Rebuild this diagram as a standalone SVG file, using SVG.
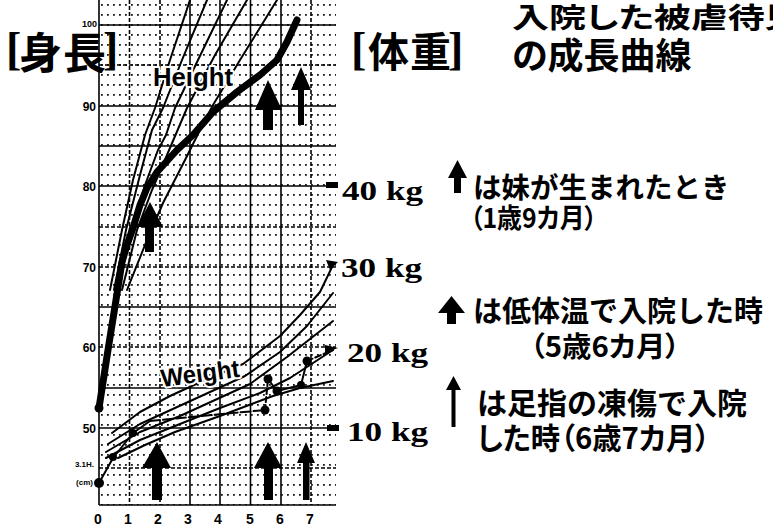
<svg xmlns="http://www.w3.org/2000/svg" width="773" height="528" viewBox="0 0 773 528">
<style>
.grid{stroke:#000;stroke-width:1.6;fill:none}
.gd{stroke:#000;stroke-width:1.6;fill:none;stroke-dasharray:4 2}
.thin{stroke:#000;stroke-width:2;fill:none;stroke-linejoin:round;stroke-linecap:round}
.thick{stroke:#000;stroke-width:7;fill:none;stroke-linejoin:round;stroke-linecap:round}
.ax{font-family:"Liberation Sans",Arial,sans-serif;font-weight:700;fill:#000}
.jp{font-family:"Noto Sans CJK JP","Noto Sans CJK SC",sans-serif;font-weight:700;fill:#000}
.pa{font-feature-settings:"palt"}
.kg{font-family:"Liberation Serif","Times New Roman",serif;font-weight:700;fill:#000;font-size:28px}
.br{font-family:"Liberation Serif","Times New Roman",serif;font-weight:700;fill:#000;font-size:46px}
.lbl{font-family:"Liberation Sans",Arial,sans-serif;font-weight:700;fill:#000;stroke:#fff;stroke-width:4;paint-order:stroke;stroke-linejoin:round}
.dot{fill:#000}
</style>
<defs>
<pattern id="dots" x="99" y="0" width="6" height="10" patternUnits="userSpaceOnUse">
<rect x="2" y="4" width="1.8" height="1.8" fill="#000"/>
</pattern>
</defs>
<rect width="773" height="528" fill="#fff"/>

<g id="chart-grid">
<rect x="100" y="0" width="236" height="505" fill="url(#dots)" opacity="0.9"/>
<line class="grid" x1="99" y1="25" x2="336" y2="25"/>
<line class="gd" x1="99" y1="65" x2="336" y2="65"/>
<line class="grid" x1="99" y1="106" x2="336" y2="106"/>
<line class="grid" x1="99" y1="146" x2="336" y2="146"/>
<line class="grid" x1="99" y1="186" x2="336" y2="186"/>
<line class="gd" x1="99" y1="227" x2="336" y2="227"/>
<line class="gd" x1="99" y1="267" x2="336" y2="267"/>
<line class="grid" x1="99" y1="307" x2="336" y2="307"/>
<line class="gd" x1="99" y1="347" x2="336" y2="347"/>
<line class="grid" x1="99" y1="388" x2="336" y2="388"/>
<line class="grid" x1="99" y1="428" x2="336" y2="428"/>
<line class="gd" x1="99" y1="468" x2="336" y2="468"/>
<line class="grid" x1="99" y1="505" x2="336" y2="505"/>
<line class="grid" x1="99" y1="0" x2="99" y2="505"/>
<line class="gd" x1="129.5" y1="0" x2="129.5" y2="505"/>
<line class="gd" x1="160" y1="0" x2="160" y2="505"/>
<line class="grid" x1="190" y1="0" x2="190" y2="505"/>
<line class="grid" x1="220" y1="0" x2="220" y2="505"/>
<line class="grid" x1="250.5" y1="0" x2="250.5" y2="505"/>
<line class="grid" x1="281" y1="0" x2="281" y2="505"/>
<line class="gd" x1="311" y1="0" x2="311" y2="505"/>
</g>

<g id="axis-labels" class="ax">
<text x="97" y="27" font-size="9" text-anchor="end">100</text>
<text x="96" y="111" font-size="12" text-anchor="end">90</text>
<text x="96" y="191" font-size="12" text-anchor="end">80</text>
<text x="96" y="272" font-size="12" text-anchor="end">70</text>
<text x="96" y="352" font-size="12" text-anchor="end">60</text>
<text x="96" y="433" font-size="12" text-anchor="end">50</text>
<text x="94" y="467" font-size="8" text-anchor="end">3.1H.</text>
<text x="93" y="485" font-size="8" text-anchor="end">(cm)</text>
<g font-size="14" text-anchor="middle">
<text x="98" y="524">0</text>
<text x="128" y="524">1</text>
<text x="158" y="524">2</text>
<text x="188" y="524">3</text>
<text x="218" y="524">4</text>
<text x="250" y="524">5</text>
<text x="280" y="524">6</text>
<text x="310" y="524">7</text>
</g>
</g>

<g id="height-reference">
<polyline class="thin" points="110,290 122,230 133,180 145,135 155,108 170,60 190,0"/>
<polyline class="thin" points="114,290 126,230 140,175 152,130 163,108 182,60 207,0"/>
<polyline class="thin" points="118,290 130,235 145,185 158,150 166,135 175,108 198,60 227,0"/>
<polyline class="thin" points="122,290 137,230 152,190 167,155 187,108 215,55 247,0"/>
<polyline class="thin" points="127,290 145,245 163,203 185,160 200,130 213,105 240,60 277,0"/>
</g>

<g id="height-curve">
<polyline class="thick" points="99,408 108,350 116,300 122,262 127,245 133,228 140,205 147,188 157,172 177,150 193,135 213,112 237,92 260,75 277,60 287,42 297,20"/>
<circle class="dot" cx="99" cy="408" r="4.5"/>
</g>

<g id="weight-reference">
<polyline class="thin" points="112,433 140,412 170,396 205,380 243,364 280,336 300,315 320,292 333,265"/>
<polyline class="thin" points="108,444 140,424 175,408 210,392 245,376 280,352 307,326 333,293"/>
<polyline class="thin" points="106,452 140,432 180,416 215,400 250,384 287,357 333,321"/>
<polyline class="thin" points="106,458 140,440 180,424 220,408 260,393 290,378 333,350"/>
<polyline class="thin" points="118,458 145,445 175,432 220,416 273,396 300,388 333,381"/>
</g>

<g id="weight-curve">
<polyline class="thin" stroke-width="3.5" points="99,483 113,458 133,433 150,421"/>
<polyline class="thin" stroke-width="3.5" stroke-dasharray="10 3" points="150,421 265,410"/>
<polyline class="thin" stroke-width="2" stroke-dasharray="5 3" points="265,410 268,379"/>
<polyline class="thin" stroke-width="3" points="268,379 277,391 301,385 307,361"/>
<polyline class="thin" stroke-width="2.5" stroke-dasharray="6 3" points="307,361 333,350"/>
<circle class="dot" cx="99" cy="483" r="5"/>
<circle class="dot" cx="113" cy="457" r="4"/>
<circle class="dot" cx="133" cy="433" r="4"/>
<circle class="dot" cx="265" cy="410" r="4.5"/>
<circle class="dot" cx="268" cy="379" r="4.5"/>
<circle class="dot" cx="277" cy="391" r="4.5"/>
<circle class="dot" cx="301" cy="385" r="4"/>
<circle class="dot" cx="307" cy="361" r="4.5"/>
</g>

<g id="kg-ticks">
<rect x="326" y="182" width="12" height="6" fill="#000"/>
<polygon points="326,260 338,262 330,270" fill="#000"/>
<polygon points="325,345 338,348 325,353" fill="#000"/>
<rect x="327" y="425" width="12" height="6" fill="#000"/>
</g>

<g id="chart-labels">
<text class="lbl" x="153" y="86" font-size="26" textLength="80" lengthAdjust="spacingAndGlyphs">Height</text>
<text class="lbl" x="162" y="387" font-size="25" textLength="79" lengthAdjust="spacingAndGlyphs" transform="rotate(-7.5 162 387)">Weight</text>
</g>

<g id="event-arrows" fill="#000">
<polygon points="157,442 171,468 162,468 162,500 152,500 152,468 142,468"/>
<polygon points="268,442 282,468 273,468 273,500 264,500 264,468 254,468"/>
<polygon points="306,442 315,463 309.5,463 309.5,500 303,500 303,463 297,463"/>
<polygon points="268,80 282,110 273,110 273,130 263,130 263,110 255,110"/>
<polygon points="301,67 311,90 304,90 304,125 298,125 298,90 291,90"/>
<polygon points="150,202 163,227 154,227 154,252 145,252 145,227 137,227"/>
</g>

<g id="heading-height">
<text class="br" x="6" y="64">[</text>
<text class="jp" font-size="43" y="69"><tspan x="19">身</tspan><tspan x="63">長</tspan></text>
<text class="br" x="103" y="64">]</text>
</g>

<g id="heading-weight">
<text class="br" x="351" y="64">[</text>
<text class="jp" font-size="41" y="67"><tspan x="368">体</tspan><tspan x="410">重</tspan></text>
<text class="br" x="448" y="64">]</text>
</g>

<g id="title">
<text class="jp pa" font-size="37" transform="translate(512,28) scale(1,0.77)" x="0" y="0">入院した被虐待児</text>
<text class="jp pa" font-size="36" x="512" y="69">の成長曲線</text>
</g>

<g id="kg-labels">
<text class="kg" x="342" y="200" textLength="81" lengthAdjust="spacingAndGlyphs">40 kg</text>
<text class="kg" x="341" y="277" textLength="81" lengthAdjust="spacingAndGlyphs">30 kg</text>
<text class="kg" x="347" y="362" textLength="81" lengthAdjust="spacingAndGlyphs">20 kg</text>
<text class="kg" x="347" y="441" textLength="81" lengthAdjust="spacingAndGlyphs">10 kg</text>
</g>

<g id="legend-1">
<polygon fill="#000" points="457.5,160 467,178 461,178 461,193 454,193 454,178 448,178"/>
<text class="jp" font-size="28.5" x="473" y="198">は妹が生まれたとき</text>
<text class="jp pa" font-size="27" x="470" y="228" textLength="127" lengthAdjust="spacingAndGlyphs">（1歳9カ月）</text>
</g>

<g id="legend-2">
<polygon fill="#000" points="451.5,296 465,313 456,313 456,324 447,324 447,313 438,313"/>
<text class="jp" font-size="29" x="473" y="322">は低体温で入院した時</text>
<text class="jp pa" font-size="28" x="530" y="357" textLength="150" lengthAdjust="spacingAndGlyphs">（5歳6カ月）</text>
</g>

<g id="legend-3">
<polygon fill="#000" points="453.5,376 461,390 455.5,390 455.5,427 451.5,427 451.5,390 446,390"/>
<text class="jp" font-size="30" x="477" y="414">は足指の凍傷で入院</text>
<text class="jp pa" font-size="30" x="477" y="449" textLength="233" lengthAdjust="spacingAndGlyphs">した時（6歳7カ月）</text>
</g>
</svg>
